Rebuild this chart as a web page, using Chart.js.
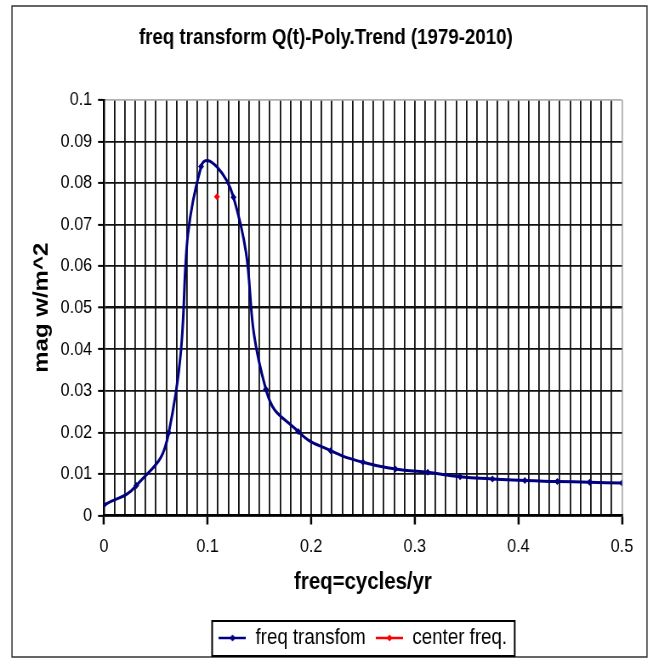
<!DOCTYPE html>
<html>
<head>
<meta charset="utf-8">
<title>freq transform Q(t)-Poly.Trend (1979-2010)</title>
<script src="https://cdn.jsdelivr.net/npm/chart.js@4"></script>
<style>
  html, body { margin: 0; padding: 0; background: #fff; }
</style>
</head>
<body>
<!-- drawn wide and shown narrower, so the lettering comes out condensed -->
<canvas id="freqChart" width="768" height="659" style="width:653px;height:659px"></canvas>
<script>
// spectrum of Q(t) minus polynomial trend, one point per k/32 cycles/yr
var freqs = [0, 0.03125, 0.0625, 0.09375, 0.125, 0.15625, 0.1875, 0.21875, 0.25,
             0.28125, 0.3125, 0.34375, 0.375, 0.40625, 0.4375, 0.46875, 0.5];
var mags = [0.0025, 0.0072, 0.0199, 0.0840, 0.0766, 0.0304, 0.0202, 0.0156, 0.0128,
            0.0112, 0.0104, 0.0093, 0.0088, 0.0084, 0.0082, 0.0080, 0.0078];

var centerFreq = [0.109];
var centerMag = [0.0767];

var xMin = 0, xMax = 0.5, xStep = 0.01;
var yMin = 0, yMax = 0.1, yStep = 0.01;

var navy = '#000080';
var red = '#ff0000';

Chart.defaults.font.family = "'Liberation Sans', Arial, sans-serif";
Chart.defaults.color = '#000';

function isMajor(v) {
    return Math.abs(v * 10 - Math.round(v * 10)) < 1e-6;
}

// little line-with-marker swatches for the legend
function legendIcon(color) {
    var c = document.createElement('canvas');
    c.width = 32;
    c.height = 10;
    var g = c.getContext('2d');
    g.strokeStyle = color;
    g.lineWidth = 2.5;
    g.beginPath();
    g.moveTo(0, 5);
    g.lineTo(32, 5);
    g.stroke();
    g.fillStyle = color;
    g.beginPath();
    g.moveTo(16, 1.5);
    g.lineTo(19.5, 5);
    g.lineTo(16, 8.5);
    g.lineTo(12.5, 5);
    g.closePath();
    g.fill();
    return c;
}
var legendIcons = [legendIcon(navy), legendIcon(red)];

var chartFrame = {
    id: 'chartFrame',
    afterDraw: function (chart) {
        var ctx = chart.ctx;
        ctx.save();
        ctx.strokeStyle = '#333';
        ctx.lineWidth = 1.5;
        ctx.strokeRect(14.1, 6, 746.8, 651);

        // box round the legend entries
        var boxes = chart.legend.legendHitBoxes;
        if (boxes && boxes.length) {
            var first = boxes[0], last = boxes[boxes.length - 1];
            var x0 = first.left - 8;
            var x1 = last.left + last.width + 9;
            var cy = first.top + first.height / 2;
            ctx.strokeStyle = '#000';
            ctx.lineWidth = 2;
            ctx.strokeRect(x0, cy - 17, x1 - x0, 35);
        }
        ctx.restore();
    }
};

var ctx = document.getElementById('freqChart');

var myChart = new Chart(ctx, {
    type: 'scatter',
    data: {
        datasets: [{
            label: 'freq transfom',
            data: freqs.map(function (f, i) { return {x: f, y: mags[i]}; }),
            showLine: true,
            borderColor: navy,
            backgroundColor: navy,
            borderWidth: 3,
            tension: 0.5,
            pointStyle: 'rectRot',
            pointRadius: 3.5,
            pointBorderWidth: 0
        }, {
            label: 'center freq.',
            data: centerFreq.map(function (f, i) { return {x: f, y: centerMag[i]}; }),
            showLine: false,
            borderColor: red,
            backgroundColor: red,
            pointStyle: 'rectRot',
            pointRadius: 3.5,
            pointBorderWidth: 0
        }]
    },
    options: {
        responsive: false,
        animation: false,
        devicePixelRatio: 1,
        layout: {
            padding: {left: 35, right: 36.5, top: 0, bottom: 0}
        },
        scales: {
            x: {
                type: 'linear',
                min: xMin,
                max: xMax,
                afterFit: function (scale) { scale.height = 99.5; },
                border: {color: '#000', width: 2.5},
                grid: {
                    color: function (c) { return c.tick && c.tick.value === xMax ? '#b0b0b0' : '#111'; },
                    lineWidth: 1.8,
                    tickColor: function (c) { return c.tick && isMajor(c.tick.value) ? '#000' : 'rgba(0,0,0,0)'; },
                    tickLength: 9,
                    tickWidth: 2.5
                },
                ticks: {
                    stepSize: xStep,
                    autoSkip: false,
                    maxRotation: 0,
                    padding: 11,
                    color: '#000',
                    font: {size: 19},
                    callback: function (v) { return isMajor(v) ? String(Math.round(v * 10) / 10) : ''; }
                },
                title: {
                    display: true,
                    text: 'freq=cycles/yr',
                    color: '#000',
                    font: {size: 24, weight: 'bold'},
                    padding: {top: 0, bottom: 18.6}
                }
            },
            y: {
                min: yMin,
                max: yMax,
                afterFit: function (scale) { scale.width = 87.3; },
                border: {color: '#000', width: 2.5},
                grid: {
                    color: function (c) { return c.tick && c.tick.value === yMax ? '#b0b0b0' : '#111'; },
                    lineWidth: function (c) { return c.tick && Math.abs(c.tick.value - 0.05) < 1e-9 ? 2.6 : 1.8; },
                    tickColor: '#000',
                    tickLength: 7,
                    tickWidth: 2
                },
                ticks: {
                    stepSize: yStep,
                    autoSkip: false,
                    padding: 7,
                    color: '#000',
                    font: {size: 19},
                    callback: function (v) { return String(Math.round(v * 100) / 100); }
                },
                title: {
                    display: true,
                    text: 'mag w/m^2',
                    color: '#000',
                    font: {size: 24, weight: 'bold'},
                    padding: {top: 0, bottom: 0}
                }
            }
        },
        plugins: {
            title: {
                display: true,
                text: 'freq transform Q(t)-Poly.Trend (1979-2010)',
                color: '#000',
                font: {size: 22, weight: 'bold'},
                padding: {top: 25, bottom: 48.6}
            },
            legend: {
                position: 'bottom',
                fullSize: false,
                labels: {
                    usePointStyle: true,
                    pointStyleWidth: 32,
                    padding: 12,
                    color: '#000',
                    font: {size: 22},
                    generateLabels: function (chart) {
                        var items = Chart.defaults.plugins.legend.labels.generateLabels(chart);
                        items.forEach(function (item, i) { item.pointStyle = legendIcons[i]; });
                        return items;
                    }
                }
            },
            tooltip: {enabled: false}
        }
    },
    plugins: [chartFrame]
});
</script>
</body>
</html>
